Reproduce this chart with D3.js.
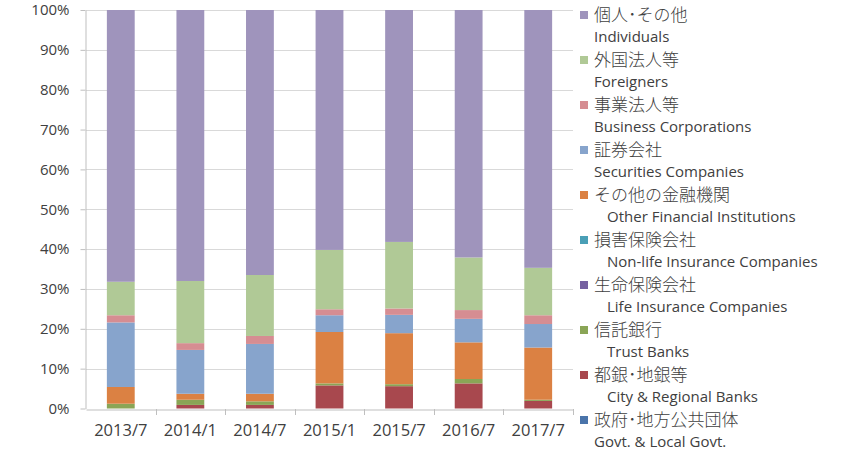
<!DOCTYPE html>
<html>
<head>
<meta charset="utf-8">
<script src="https://cdn.jsdelivr.net/npm/d3@7"></script>
<style>
  body { margin: 0; background: #fff; }
  svg text { font-family: "Open Sans", "Noto Sans CJK JP", sans-serif; fill: #404040; }
</style>
</head>
<body>
<div class="chart"></div>
<script>
// periods on the x axis
const periods = ["2013/7", "2014/1", "2014/7", "2015/1", "2015/7", "2016/7", "2017/7"]

// series, bottom to top (share in %)
const govt      = [0, 0, 0, 0, 0, 0, 0]
const cityBanks = [0, 0.9, 0.9, 5.8, 5.6, 6.3, 1.9]
const trust     = [1.2, 1.3, 0.9, 0.5, 0.5, 1.1, 0.3]
const life      = [0, 0, 0, 0, 0, 0, 0]
const nonLife   = [0, 0, 0, 0, 0, 0, 0]
const otherFin  = [4.2, 1.5, 1.9, 12.9, 12.8, 9.2, 13.1]
const securities= [16.2, 11.0, 12.5, 4.2, 4.6, 5.9, 5.9]
const business  = [1.8, 1.7, 2.0, 1.5, 1.6, 2.2, 2.2]
const foreigners= [8.4, 15.6, 15.3, 14.9, 16.7, 13.2, 11.9]
const individuals=[68.2, 68.0, 66.5, 60.2, 58.2, 62.1, 64.7]

const seriesKeys = ["govt", "cityBanks", "trust", "life", "nonLife", "otherFin", "securities", "business", "foreigners", "individuals"]
const seriesValues = [govt, cityBanks, trust, life, nonLife, otherFin, securities, business, foreigners, individuals]
const labelsJp = ["政府･地方公共団体", "都銀･地銀等", "信託銀行", "生命保険会社", "損害保険会社", "その他の金融機関", "証券会社", "事業法人等", "外国法人等", "個人･その他"]
const labelsEn = ["Govt. & Local Govt.", "City & Regional Banks", "Trust Banks", "Life Insurance Companies", "Non-life Insurance Companies", "Other Financial Institutions", "Securities Companies", "Business Corporations", "Foreigners", "Individuals"]
const colors = ["#4A74AA", "#A8484E", "#8AA556", "#7560A0", "#4A9FB6", "#DB8143", "#87A4CC", "#D68D92", "#B0C996", "#9F94BC"]
const yTicks = [0, 10, 20, 30, 40, 50, 60, 70, 80, 90, 100]

const width = 860
const height = 452
const margin = ({top: 10, right: 287, bottom: 44, left: 86})

const table = periods.map((p, i) => {
    const row = {period: p}
    seriesKeys.forEach((k, j) => row[k] = seriesValues[j][i])
    // normalise to 100%
    const total = d3.sum(seriesKeys, k => row[k])
    seriesKeys.forEach(k => row[k] = row[k] / total * 100)
    return row
})

const stacked = d3.stack().keys(seriesKeys)(table)

const x = d3.scaleBand()
    .domain(periods)
    .range([margin.left, width - margin.right])
    .paddingInner(0.6)
    .paddingOuter(0.3)

const y = d3.scaleLinear()
    .domain([0, 100])
    .range([height - margin.bottom + 0.5, margin.top])

const svg = d3.create("svg")
    .attr("width", width)
    .attr("height", height)

// gridlines
svg.append("g")
    .selectAll("line")
    .data(yTicks.slice(1))
    .join("line")
    .attr("x1", margin.left)
    .attr("x2", width - margin.right)
    .attr("y1", d => Math.round(y(d)) + 0.5)
    .attr("y2", d => Math.round(y(d)) + 0.5)
    .attr("stroke", "#D9D9D9")

const yAxis = g => g
    .attr("transform", `translate(${margin.left - 0.5},0)`)
    .call(d3.axisLeft(y).tickValues(yTicks).tickFormat(d => d + "%").tickSize(5).tickPadding(11).tickSizeOuter(0))
    .call(g => g.selectAll("line, .domain").attr("stroke", "#BFBFBF"))
    .call(g => g.selectAll("text").style("font-size", "15px").attr("fill", "#3a3a3a"))

const xAxis = g => g
    .attr("transform", `translate(0,${Math.round(y(0)) + 0.5})`)
    .call(d3.axisBottom(x).tickSize(0).tickPadding(15).tickSizeOuter(0))
    .call(g => g.select(".domain").attr("stroke", "#BFBFBF"))
    .call(g => g.selectAll("text").style("font-size", "16.5px").attr("fill", "#3a3a3a"))

svg.append("g").call(yAxis)
svg.append("g").call(xAxis)

// tick marks between categories
const step = x.step()
svg.append("g")
    .selectAll("line")
    .data(periods)
    .join("line")
    .attr("x1", (d, i) => Math.round(margin.left + step * (i + 1)) + 0.5)
    .attr("x2", (d, i) => Math.round(margin.left + step * (i + 1)) + 0.5)
    .attr("y1", Math.round(y(0)))
    .attr("y2", Math.round(y(0)) + 6)
    .attr("stroke", "#BFBFBF")

// bars
svg.append("g")
    .selectAll("g")
    .data(stacked)
    .join("g")
    .attr("fill", (d, i) => colors[i])
    .selectAll("rect")
    .data(d => d)
    .join("rect")
    .attr("x", d => x(d.data.period))
    .attr("width", x.bandwidth())
    .attr("y", d => y(d[1]))
    .attr("height", d => Math.max(0, y(d[0]) - y(d[1])))

// legend, top entry = top of stack
const legendOrder = d3.range(seriesKeys.length).reverse()
const enIndent = [0, 0, 0, 0, 1, 1, 1, 1, 1, 0]
const legend = svg.append("g")
    .selectAll("g")
    .data(legendOrder)
    .join("g")
    .attr("transform", (d, i) => `translate(580,${15 + i * 45})`)

legend.append("rect")
    .attr("x", 0)
    .attr("y", -4)
    .attr("width", 8)
    .attr("height", 8)
    .attr("fill", d => colors[d])

legend.append("text")
    .attr("x", 14)
    .attr("y", 0)
    .attr("dy", "0.36em")
    .style("font-size", "17px")
    .style("font-weight", "300")
    .style("font-family", "'Noto Sans CJK JP', sans-serif")
    .attr("fill", "#222")
    .text(d => labelsJp[d])

legend.append("text")
    .attr("x", (d, i) => enIndent[i] ? 27 : 14)
    .attr("y", 22)
    .attr("dy", "0.35em")
    .style("font-size", "15px")
    .attr("fill", "#222")
    .text(d => labelsEn[d])

document.querySelector(".chart").appendChild(svg.node())
</script>
</body>
</html>
